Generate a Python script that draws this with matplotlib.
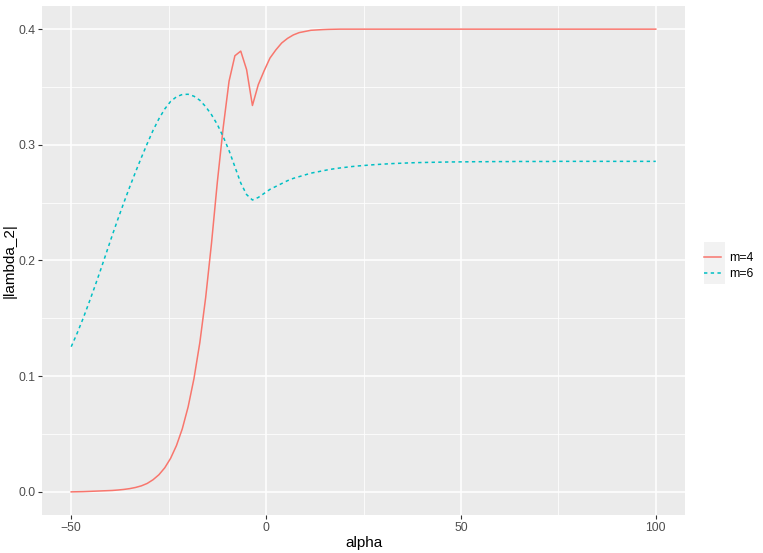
import numpy as np
import matplotlib
matplotlib.use("Agg")
import matplotlib.pyplot as plt
from matplotlib.patches import Rectangle
from matplotlib.ticker import MultipleLocator, FuncFormatter

plt.rcParams['font.family'] = ['Liberation Sans', 'DejaVu Sans']

# -- DATA --------------------------------------------------------------------
# alpha grid: -50 .. 100 in steps of 1.5 (101 points)
alpha = np.linspace(-50, 100, 101)

lambda_m4 = [
    0.0000, 0.0001, 0.0002, 0.0004, 0.0006, 0.0008, 0.0010, 0.0012, 0.0016, 0.0021,
    0.0028, 0.0038, 0.0052, 0.0073, 0.0105, 0.0148, 0.0208, 0.0290, 0.0400, 0.0545,
    0.0735, 0.0980, 0.1290, 0.1680, 0.2150, 0.2680, 0.3150, 0.3550, 0.3770, 0.3810,
    0.3650, 0.3340, 0.3520, 0.3640, 0.3750, 0.3820, 0.3880, 0.3920, 0.3950, 0.3970,
    0.3980, 0.3990, 0.3993, 0.3996, 0.3998, 0.3999, 0.4000, 0.4000, 0.4000, 0.4000,
    0.4000, 0.4000, 0.4000, 0.4000, 0.4000, 0.4000, 0.4000, 0.4000, 0.4000, 0.4000,
    0.4000, 0.4000, 0.4000, 0.4000, 0.4000, 0.4000, 0.4000, 0.4000, 0.4000, 0.4000,
    0.4000, 0.4000, 0.4000, 0.4000, 0.4000, 0.4000, 0.4000, 0.4000, 0.4000, 0.4000,
    0.4000, 0.4000, 0.4000, 0.4000, 0.4000, 0.4000, 0.4000, 0.4000, 0.4000, 0.4000,
    0.4000, 0.4000, 0.4000, 0.4000, 0.4000, 0.4000, 0.4000, 0.4000, 0.4000, 0.4000,
    0.4000,
]

lambda_m6 = [
    0.1255, 0.1370, 0.1495, 0.1630, 0.1770, 0.1915, 0.2065, 0.2215, 0.2360, 0.2500,
    0.2635, 0.2765, 0.2890, 0.3010, 0.3125, 0.3225, 0.3310, 0.3375, 0.3415, 0.3435,
    0.3437, 0.3420, 0.3385, 0.3330, 0.3260, 0.3175, 0.3070, 0.2950, 0.2810, 0.2670,
    0.2570, 0.2523, 0.2545, 0.2580, 0.2615, 0.2640, 0.2665, 0.2690, 0.2710, 0.2725,
    0.2740, 0.2755, 0.2765, 0.2775, 0.2785, 0.2793, 0.2800, 0.2806, 0.2812, 0.2817,
    0.2821, 0.2825, 0.2829, 0.2832, 0.2835, 0.2838, 0.2840, 0.2842, 0.2844, 0.2846,
    0.2847, 0.2848, 0.2849, 0.2850, 0.2851, 0.2852, 0.2852, 0.2853, 0.2853, 0.2854,
    0.2854, 0.2854, 0.2855, 0.2855, 0.2855, 0.2855, 0.2856, 0.2856, 0.2856, 0.2856,
    0.2856, 0.2856, 0.2856, 0.2857, 0.2857, 0.2857, 0.2857, 0.2857, 0.2857, 0.2857,
    0.2857, 0.2857, 0.2857, 0.2857, 0.2857, 0.2857, 0.2857, 0.2857, 0.2857, 0.2857,
    0.2857,
]

labels = ["m=4", "m=6"]
colors = ["#F8766D", "#00BFC4"]
# ----------------------------------------------------------------------------

fig = plt.figure(figsize=(7.63, 5.53), dpi=100)
ax = fig.add_axes([42 / 763, 38 / 553, 643 / 763, 509 / 553])
ax.set_facecolor("#EBEBEB")

ax.plot(alpha, lambda_m4, color=colors[0], lw=1.1, label=labels[0])
ax.plot(alpha, lambda_m6, color=colors[1], lw=1.1, linestyle=(0, (2.2, 2.2)),
        label=labels[1])

ax.set_xlim(-57.5, 107.5)
ax.set_ylim(-0.02, 0.42)
ax.xaxis.set_major_locator(MultipleLocator(50))
ax.xaxis.set_minor_locator(MultipleLocator(25))
ax.yaxis.set_major_locator(MultipleLocator(0.1))
ax.yaxis.set_minor_locator(MultipleLocator(0.05))
ax.xaxis.set_major_formatter(FuncFormatter(lambda v, p: f"{v:.0f}".replace("-", "\u2212")))
ax.yaxis.set_major_formatter(FuncFormatter(lambda v, p: f"{v:.1f}"))

ax.grid(which="major", color="white", lw=1.1)
ax.grid(which="minor", color="white", lw=0.55)
ax.set_axisbelow(True)
for s in ax.spines.values():
    s.set_visible(False)
ax.tick_params(which="major", length=2.75, width=0.8, color="#333333",
               labelsize=8.8, labelcolor="#4D4D4D", pad=2)
ax.tick_params(which="minor", length=0)

ax.set_xlabel("alpha", fontsize=11, labelpad=2)
ax.set_ylabel("|lambda_2|", fontsize=11, labelpad=1)

# legend key background (ggplot style)
fig.patches.append(Rectangle((704 / 763, (553 - 284) / 553), 21 / 763, 42 / 553,
                             transform=fig.transFigure, facecolor="#F2F2F2",
                             edgecolor="none", zorder=0))
fig.legend(loc="center left", bbox_to_anchor=(694 / 763, (553 - 266) / 553),
           frameon=False, fontsize=8.8, handlelength=1.4, handletextpad=0.7,
           labelspacing=0.35, borderpad=0.3)

fig.savefig("out.png", dpi=100)
